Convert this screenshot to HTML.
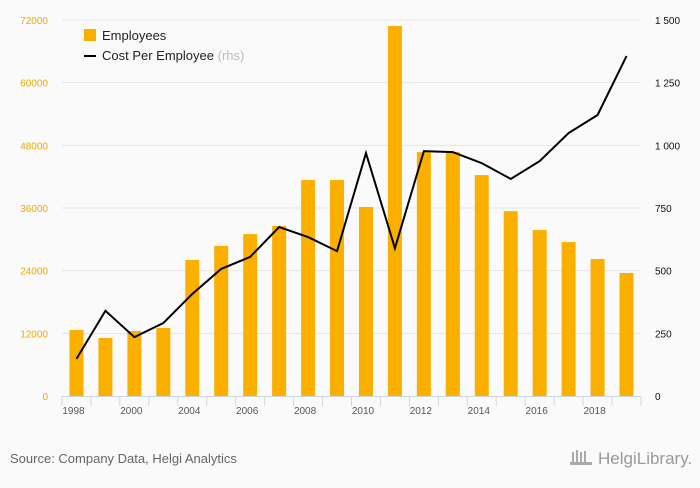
<!DOCTYPE html>
<html><head><meta charset="utf-8"><style>
body{margin:0;background:#fafafa;font-family:"Liberation Sans",sans-serif}
svg text{font-family:"Liberation Sans",sans-serif}
</style></head><body>
<svg width="700" height="483">
<rect width="700" height="483" fill="#fafafa"/>
<g id="grid"></g><g id="bars"></g><g id="axes"></g>
<path id="line" fill="none" stroke="#000" stroke-width="2"/>
<g>
<rect x="84" y="29" width="12" height="12" fill="#fbb000"/>
<text x="102" y="40" font-size="13" fill="#222">Employees</text>
<line x1="84" y1="56" x2="96" y2="56" stroke="#000" stroke-width="2"/>
<text x="102" y="60" font-size="13" fill="#222">Cost Per Employee <tspan fill="#bbb">(rhs)</tspan></text>
</g>
<text x="10" y="463" font-size="13" fill="#666">Source: Company Data, Helgi Analytics</text>
<text x="598" y="464" font-size="17" fill="#999" font-family="Liberation Serif">HelgiLibrary.</text>
<g fill="#aaa"><rect x="572" y="452" width="2" height="12"/><rect x="576" y="450" width="2" height="14"/><rect x="580" y="452" width="2" height="12"/><rect x="584" y="451" width="2" height="13"/><rect x="570" y="462" width="22" height="3"/></g>
</svg>
<script>
const categories=[1998,1999,2000,2003,2004,2005,2006,2007,2008,2009,2010,2011,2012,2013,2014,2015,2016,2017,2018,2019];
const xLabels=["1998","2000","2004","2006","2008","2010","2012","2014","2016","2018"];
const employees=[12640,11100,12450,13020,26040,28720,31000,32560,41360,41360,36190,70850,46700,46700,42300,35400,31780,29480,26220,23550];
const costPerEmployee=[148,340,235,291,407,507,555,674,634,578,969,590,977,973,929,866,937,1049,1121,1356];
const leftTicks=[0,12000,24000,36000,48000,60000,72000];
const rightTicks=["0","250","500","750","1 000","1 250","1 500"];
const rightVals=[0,250,500,750,1000,1250,1500];
const NS="http://www.w3.org/2000/svg";
const x0=62,x1=641,yb=396,yt=20,bw=(x1-x0)/categories.length;
const xc=i=>x0+bw*(i+0.5);
const yL=v=>yb-(v/72000)*(yb-yt);
const yR=v=>yb-(v/1500)*(yb-yt);
function mk(t,a,p){const e=document.createElementNS(NS,t);for(const k in a)e.setAttribute(k,a[k]);p.appendChild(e);return e;}
const grid=document.getElementById('grid'),bars=document.getElementById('bars'),axes=document.getElementById('axes');
leftTicks.forEach((v,i)=>{
 if(v>0){const g=mk('line',{x1:x0,x2:x1,y1:yL(v),y2:yL(v),stroke:'#e6e6e6'},grid);
 
 }
 const t=mk('text',{x:48,y:yL(v)+4,'text-anchor':'end','font-size':10,fill:'#f0a800'},axes);t.textContent=v;
 
 
 const r=mk('text',{x:655,y:yR(rightVals[i])+4,'font-size':10,fill:'#111'},axes);r.textContent=rightTicks[i];
 
 
});
employees.forEach((v,i)=>{
 const b=mk('rect',{x:xc(i)-7,y:yL(v),width:14,height:yb-yL(v),fill:'#fbb000'},bars);
 
 
});
const ax=mk('line',{x1:x0,x2:x1,y1:yb+0.5,y2:yb+0.5,stroke:'#ccd6eb'},axes);


for(let i=0;i<=categories.length;i++){
 const t=mk('line',{x1:x0+bw*i,x2:x0+bw*i,y1:yb,y2:yb+10,stroke:'#ccd6eb'},axes);
 
 
}
xLabels.forEach((l,k)=>{
 const t=mk('text',{x:xc(k*2)-3,y:yb+18,'text-anchor':'middle','font-size':10,fill:'#555'},axes);t.textContent=l;
 
 
});
document.getElementById('line').setAttribute('d',costPerEmployee.map((v,i)=>(i?'L':'M')+xc(i)+','+yR(v)).join(''));
</script>
</body></html>
